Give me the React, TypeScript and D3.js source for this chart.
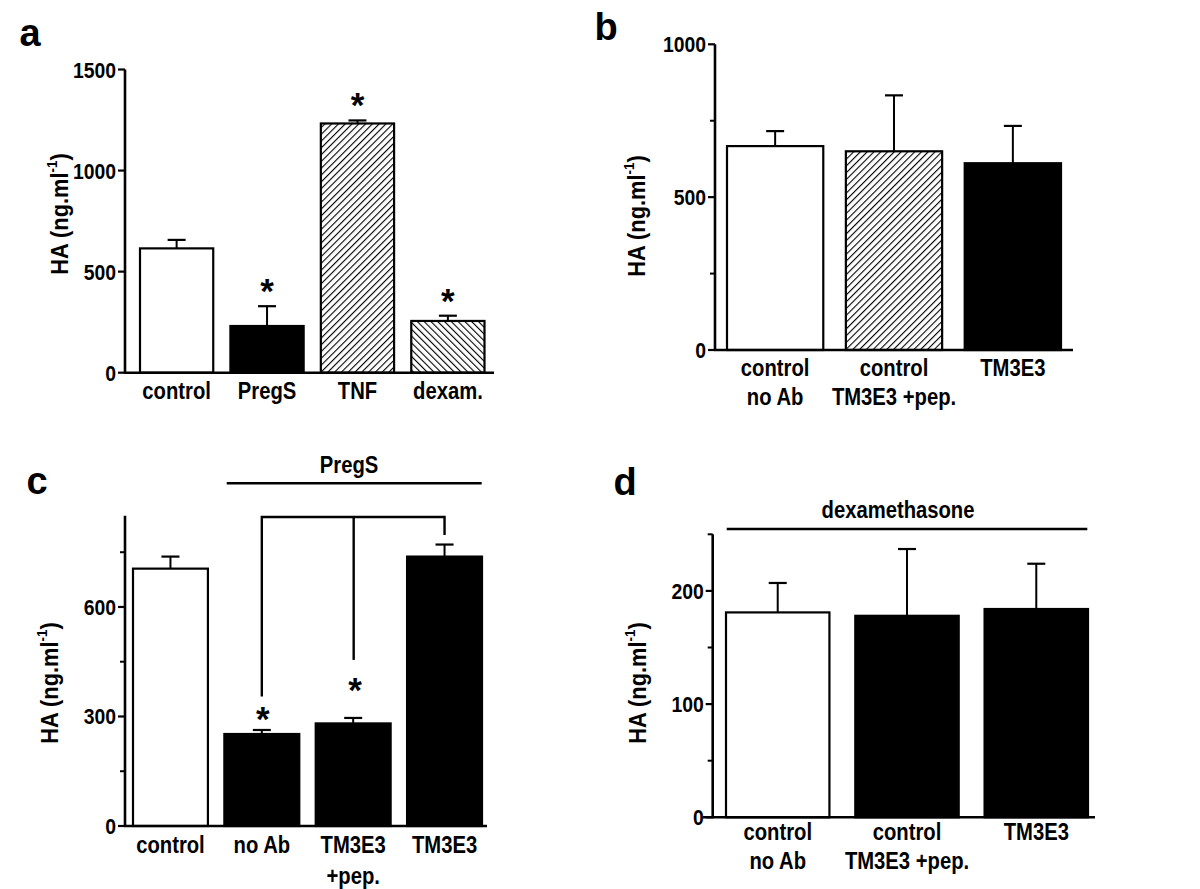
import React from "react";
import * as d3 from "d3";

// ---- data ----
const catsA = ["control", "PregS", "TNF", "dexam."];
const valsA = [615, 231, 1233, 256];
const errA = [42, 98, 15, 26];
const fillA = ["white", "black", "hatchR", "hatchL"];
const starA = [false, true, true, true];
const ticksA = [0, 500, 1000, 1500];

const catsB = [["control", "no Ab"], ["control", "TM3E3 +pep."], ["TM3E3"]];
const valsB = [667, 650, 611];
const errB = [49, 183, 122];
const fillB = ["white", "hatchR", "black"];
const ticksB = [0, 500, 1000];
const minorB = [250, 750];

const catsC = [["control"], ["no Ab"], ["TM3E3", "+pep."], ["TM3E3"]];
const valsC = [705, 252, 281, 738];
const errC = [33, 11, 15, 33];
const fillC = ["white", "black", "black", "black"];
const ticksC = [0, 300, 600];
const minorC = [150, 450, 750];

const catsD = [["control", "no Ab"], ["control", "TM3E3 +pep."], ["TM3E3"]];
const valsD = [181, 178, 184];
const errD = [26, 59, 40];
const fillD = ["white", "black", "black"];
const ticksD = [0, 100, 200];
const minorD = [50, 150, 250];

const FONT = "'Liberation Sans', Arial, Helvetica, sans-serif";

function SText(props: {
  x: number;
  y: number;
  size: number;
  sx?: number;
  anchor?: string;
  children: React.ReactNode;
}) {
  const sx = props.sx ?? 0.88;
  return (
    <text
      transform={`translate(${props.x},${props.y}) scale(${sx},1)`}
      fontFamily={FONT}
      fontWeight="bold"
      fontSize={props.size}
      textAnchor={props.anchor ?? "middle"}
    >
      {props.children}
    </text>
  );
}

function Star(props: { x: number; cy: number }) {
  return (
    <text x={props.x} y={props.cy + 19} fontFamily={FONT} fontWeight="bold" fontSize={35} textAnchor="middle">
      *
    </text>
  );
}

type PanelProps = {
  letter: string;
  letterPos: [number, number];
  axisX: number;
  y0: number;
  yTop: number;
  domainMax: number;
  ticks: number[];
  minor: number[];
  bandRange: [number, number];
  xAxisEnd: number;
  xAxisStart?: number;
  pad: number;
  cats: string[][];
  vals: number[];
  errs: number[];
  fills: string[];
  stars?: boolean[];
  ylabelPos: [number, number];
  labelY: number[];
  capW: number;
};

function fillOf(f: string) {
  if (f === "hatchR") return "url(#hatchR)";
  if (f === "hatchL") return "url(#hatchL)";
  return f;
}

function Panel(p: PanelProps) {
  const y = d3.scaleLinear().domain([0, p.domainMax]).range([p.y0, p.yTop]);
  const x = d3
    .scaleBand<number>()
    .domain(p.vals.map((_, i) => i))
    .range(p.bandRange)
    .paddingInner(p.pad)
    .paddingOuter(0);
  const bw = x.bandwidth();
  return (
    <g>
      <text x={p.letterPos[0]} y={p.letterPos[1]} fontFamily={FONT} fontWeight="bold" fontSize={38} textAnchor="middle">
        {p.letter}
      </text>
      {p.vals.map((v, i) => {
        const bx = x(i)!;
        const cx = bx + bw / 2;
        const top = y(v);
        const et = y(v + p.errs[i]);
        return (
          <g key={i}>
            <line x1={cx} x2={cx} y1={top} y2={et} stroke="black" strokeWidth={2} />
            <line x1={cx - p.capW / 2} x2={cx + p.capW / 2} y1={et} y2={et} stroke="black" strokeWidth={2.2} />
            <rect x={bx} y={top} width={bw} height={p.y0 - top} fill={fillOf(p.fills[i])} stroke="black" strokeWidth={2.2} />
            {p.stars && p.stars[i] ? <Star x={cx} cy={et - 22} /> : null}
            {p.cats[i].map((t, j) => (
              <SText key={j} x={cx} y={p.labelY[j]} size={23}>
                {t}
              </SText>
            ))}
          </g>
        );
      })}
      <line x1={p.axisX} x2={p.axisX} y1={p.yTop} y2={p.y0 + 1} stroke="black" strokeWidth={2.6} />
      {p.ticks.map((t) => (
        <g key={t}>
          <line x1={p.axisX - 7} x2={p.axisX} y1={y(t)} y2={y(t)} stroke="black" strokeWidth={2.2} />
          <SText x={p.axisX - 9} y={y(t) + 8} size={22} anchor="end">
            {t}
          </SText>
        </g>
      ))}
      {p.minor.map((t) => (
        <line key={t} x1={p.axisX - 5} x2={p.axisX} y1={y(t)} y2={y(t)} stroke="black" strokeWidth={2} />
      ))}
      <line x1={p.xAxisStart ?? p.axisX - 1} x2={p.xAxisEnd} y1={p.y0} y2={p.y0} stroke="black" strokeWidth={2.6} />
      <text
        transform={`translate(${p.ylabelPos[0]},${p.ylabelPos[1]}) rotate(-90) scale(0.95,1)`}
        fontFamily={FONT}
        fontWeight="bold"
        fontSize={23}
        textAnchor="middle"
        dominantBaseline="central"
      >
        HA (ng.ml
        <tspan fontSize={14} dy={-8}>-1</tspan>
        <tspan dy={8}>)</tspan>
      </text>
    </g>
  );
}

export default function App() {
  const yC = d3.scaleLinear().domain([0, 850]).range([826, 515.7]);
  const xC = d3.scaleBand<number>().domain([0, 1, 2, 3]).range([133, 482]).paddingInner(0.18).paddingOuter(0);
  const cC = (i: number) => xC(i)! + xC.bandwidth() / 2;
  const bracketY = 517;
  const midX = (cC(1) + cC(3)) / 2 + 0.5;
  return (
    <svg width={1200} height={889} style={{ position: "absolute", left: 0, top: 0, background: "white" }}>
      <defs>
        <pattern id="hatchR" patternUnits="userSpaceOnUse" width={4.8} height={4.8} patternTransform="rotate(45)">
          <rect width={4.8} height={4.8} fill="white" />
          <line x1={0} y1={-1} x2={0} y2={6} stroke="black" strokeWidth={2.2} />
        </pattern>
        <pattern id="hatchL" patternUnits="userSpaceOnUse" width={4.8} height={4.8} patternTransform="rotate(-45)">
          <rect width={4.8} height={4.8} fill="white" />
          <line x1={0} y1={-1} x2={0} y2={6} stroke="black" strokeWidth={2.2} />
        </pattern>
      </defs>
      <rect width={1200} height={889} fill="white" />
      <Panel
        letter="a"
        letterPos={[30, 46]}
        axisX={125}
        y0={372.7}
        yTop={69.5}
        domainMax={1500}
        ticks={ticksA}
        minor={[]}
        bandRange={[140, 484.5]}
        xAxisEnd={494}
        pad={0.19}
        cats={catsA.map((c) => [c])}
        vals={valsA}
        errs={errA}
        fills={fillA}
        stars={starA}
        ylabelPos={[60, 214]}
        labelY={[399]}
        capW={18}
      />
      <Panel
        letter="b"
        letterPos={[606, 40]}
        axisX={715}
        y0={350}
        yTop={44.3}
        domainMax={1000}
        ticks={ticksB}
        minor={minorB}
        bandRange={[727, 1061]}
        xAxisEnd={1073}
        pad={0.19}
        cats={catsB}
        vals={valsB}
        errs={errB}
        fills={fillB}
        ylabelPos={[637, 216]}
        labelY={[376, 405]}
        capW={18}
      />
      <Panel
        letter="c"
        letterPos={[37, 494]}
        axisX={125}
        y0={826}
        yTop={515.7}
        domainMax={850}
        ticks={ticksC}
        minor={minorC}
        bandRange={[133, 482]}
        xAxisEnd={487}
        pad={0.18}
        cats={catsC}
        vals={valsC}
        errs={errC}
        fills={fillC}
        ylabelPos={[50, 683]}
        labelY={[853, 884]}
        capW={18}
      />
      <SText x={349} y={473} size={23}>
        PregS
      </SText>
      <line x1={226.7} x2={481.7} y1={483.3} y2={483.3} stroke="black" strokeWidth={2.4} />
      <path
        d={`M${cC(1)},${yC(355)} V${bracketY} H${cC(3)} V${yC(797)}`}
        fill="none"
        stroke="black"
        strokeWidth={2.4}
      />
      <line x1={midX} x2={midX} y1={bracketY} y2={yC(455)} stroke="black" strokeWidth={2.4} />
      <Star x={cC(1) + 1} cy={yC(valsC[1] + errC[1]) - 18} />
      <Star x={cC(2) + 2} cy={yC(valsC[2] + errC[2]) - 35} />
      <Panel
        letter="d"
        letterPos={[625, 495]}
        axisX={712.7}
        y0={817.3}
        yTop={534.3}
        domainMax={250}
        ticks={ticksD}
        minor={minorD}
        bandRange={[726, 1088]}
        xAxisEnd={1095}
        xAxisStart={703}
        pad={0.2}
        cats={catsD}
        vals={valsD}
        errs={errD}
        fills={fillD}
        ylabelPos={[638, 683]}
        labelY={[840, 869]}
        capW={18}
      />
      <SText x={898} y={518} size={23}>
        dexamethasone
      </SText>
      <line x1={726.7} x2={1087.3} y1={529} y2={529} stroke="black" strokeWidth={2.4} />
    </svg>
  );
}
